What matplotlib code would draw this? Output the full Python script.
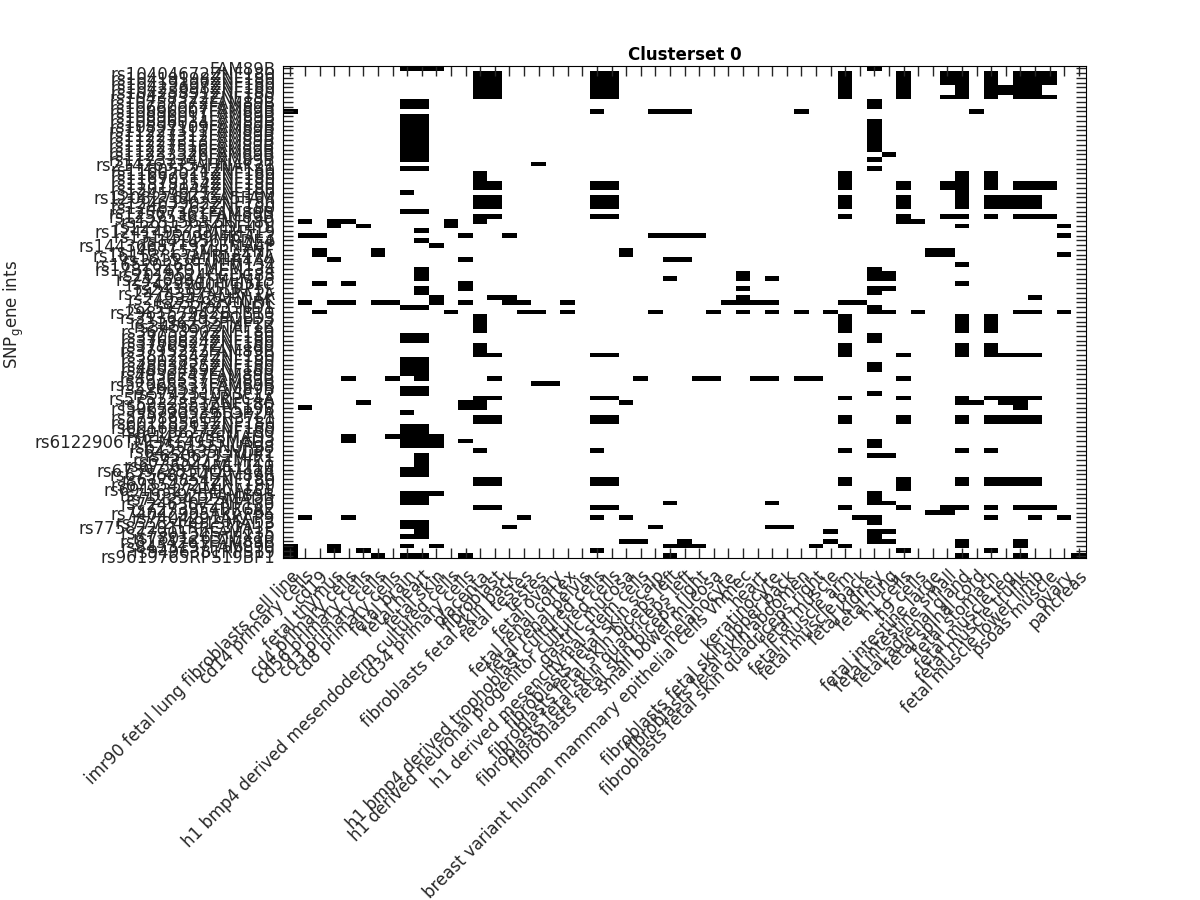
import matplotlib
matplotlib.use("Agg")
import matplotlib.pyplot as plt
import numpy as np

# tissue names along the x axis
tissues = [
    "imr90 fetal lung fibroblasts cell line", "cd14 primary cells", "cd19", "fetal thymus",
    "cd4 primary cells", "cd56 primary cells", "cd3 primary cells", "cd8 primary cells",
    "fetal brain", "fetal heart", "fetal skin", "h1 bmp4 derived mesendoderm cultured cells",
    "cd34 primary cells", "placenta", "fibroblast", "fibroblasts fetal skin back",
    "fetal testes", "testes", "fetal ovary", "fetal renal cortex", "fetal renal pelvis",
    "h1 bmp4 derived trophoblast cultured cells", "h1 derived neuronal progenitor cultured cells",
    "gastric mucosa", "h1 derived mesenchymal stem cells", "fibroblasts fetal skin scalp",
    "fibroblasts fetal skin biceps left", "fibroblasts fetal skin quadriceps left",
    "fibroblasts fetal skin biceps right", "small bowel mucosa", "melanocyte",
    "breast variant human mammary epithelial cells vhmec", "heart", "keratinocyte",
    "fibroblasts fetal skin upper back", "fibroblasts fetal skin abdomen",
    "fibroblasts fetal skin quadriceps right", "fetal muscle", "fetal muscle arm", "fetal muscle back",
    "fetal kidney", "fetal lung", "h1 cells", "h9 cells", "fetal intestine large",
    "fetal intestine small", "fetal adrenal gland", "fetal spinal cord", "fetal stomach",
    "fetal muscle leg", "fetal muscle trunk", "fetal muscle lower limb", "psoas muscle",
    "ovary", "pancreas",
]

# SNP_gene labels, top row first
snp_genes = [
    "FAM89B", "rs10404672ZNF180", "rs10419198ZNF180", "rs10419397ZNF180", "rs10423698ZNF180",
    "rs10425891ZNF180", "rs10438322ZNF180", "rs10757372FAM89B", "rs10660067FAM89B", "rs10896007FAM89B",
    "rs10896011FAM89B", "rs10896034FAM89B", "rs10897109FAM89B", "rs11227311FAM89B", "rs11227312FAM89B",
    "rs11227313FAM89B", "rs11227516FAM89B", "rs11227526FAM89B", "rs11233326FAM89B", "rs11233340FAM89B",
    "rs21426335AHNAK21", "rs11605524ZNF180", "rs11667011ZNF180", "rs11670315ZNF180", "rs11878154ZNF180",
    "rs12017044ZNF180", "rs12459621ZNF180", "rs12082764GGA5FAM", "rs12463902ZNF180", "rs12467262ZNF180",
    "rs12567361FAM89B", "rs12575361FAM89B", "rs1281563ZNF180", "rs12911235PDE4DI", "rs12414957TMEM519",
    "rs13145099MICAL3", "rs1414567PDE4", "rs14436687T97LEMA4P", "rs1467153MIR3ZNF", "rs16153367MIRLET7A",
    "rs1615367MIR4A4", "rs16520268TMEM134", "rs17812470TMEM134", "rs2019524CCDC88", "rs2426994TMEM13",
    "rs2429900JMJD1C", "rs2433945LRP5L", "rs2474397ADRA1A", "rs2493442AHNAK", "rs2559870LDL",
    "rs2597340CCND1", "rs29815794ZBTB10", "rs31362493POLD3", "rs3136292PMP22", "rs3456533TAF1B",
    "rs3675390ZNF180", "rs3700824ZNF180", "rs3760824ZNF180", "rs3778927ZNF180", "rs3795272FAM89B",
    "rs3812342ZNF180", "rs3902837ZNF180", "rs4803425ZNF180", "rs4803459ZNF180", "rs4936247FAM89B",
    "rs4936537FAM89B", "rs52065337FAM89B", "rs5266533FAM89B", "rs5742510ASCL2", "rs57512335ARPC4A",
    "rs5932851ZNF180", "rs59653352RPS19B", "rs5790539TOP2A", "rs5798693GPR37L1", "rs60118561ZNF180",
    "rs60169212ZNF180", "rs6018827ZNF180", "rs6142975SMAD3", "rs6122906TMEM14955MAD3", "rs6250155NUP98",
    "rs6422635CNDP2", "rs6506712MIR1", "rs6735223ZMIZ1", "rs6736044MLLT10", "rs67397281DQ97424",
    "rs67568724FAM89B", "rs6779854ZNF180", "rs67854721ZNF180", "rs69183274MICALCL", "rs7103925FAM89B",
    "rs7235412SMAD3", "rs7246307ZNF180", "rs7273954BRCA2", "rs74042905AKAP95", "rs7404291AKAP9",
    "rs77724491SMAD3", "rs77582291LRRC37A1P", "rs7790134FAM135", "rs7801263TEX10", "rs8134261FAM89B",
    "rs8453197FAM890", "rs9496381RPS19", "rs9619765RPS19BP1",
]

# active columns for every row, top row first
row_cols = [
    [8, 9, 10, 40],
    [13, 14, 21, 22, 38, 42, 45, 46, 48, 50, 51, 52],
    [13, 14, 21, 22, 38, 42, 45, 46, 48, 50, 51, 52],
    [13, 14, 21, 22, 38, 42, 45, 46, 48, 50, 51, 52],
    [13, 14, 21, 22, 38, 42, 46, 48, 49, 50, 51],
    [13, 14, 21, 22, 38, 42, 46, 48, 49, 50, 51],
    [13, 14, 21, 22, 38, 42, 45, 46, 48, 50, 51, 52],
    [8, 9, 40],
    [8, 9, 40],
    [0, 21, 25, 26, 27, 35, 47],
    [8, 9],
    [8, 9, 40],
    [8, 9, 40],
    [8, 9, 40],
    [8, 9, 40],
    [8, 9, 40],
    [8, 9, 40],
    [8, 9, 40],
    [8, 9, 41],
    [8, 9, 40],
    [17],
    [8, 9, 40],
    [13, 38, 46, 48],
    [13, 38, 46, 48],
    [13, 14, 21, 22, 38, 42, 45, 46, 48, 50, 51, 52],
    [13, 14, 21, 22, 38, 42, 45, 46, 48, 50, 51, 52],
    [8, 46],
    [13, 14, 21, 22, 38, 42, 46, 48, 49, 50, 51],
    [13, 14, 21, 22, 38, 42, 46, 48, 49, 50, 51],
    [13, 14, 21, 22, 38, 42, 46, 48, 49, 50, 51],
    [8, 9],
    [13, 14, 21, 22, 38, 42, 45, 46, 48, 50, 51, 52],
    [1, 3, 4, 11, 13, 42, 43],
    [3, 5, 11, 46, 53],
    [9],
    [1, 2, 12, 15, 25, 26, 27, 28, 53],
    [9],
    [10],
    [2, 6, 23, 44, 45],
    [2, 6, 23, 44, 45, 53],
    [3, 12, 26, 27],
    [46],
    [9, 40],
    [9, 31, 40, 41],
    [9, 26, 31, 33, 40, 41],
    [2, 4, 12, 46],
    [9, 12, 31, 40, 41],
    [9, 40],
    [10, 14, 15, 31, 51],
    [1, 3, 4, 6, 7, 10, 12, 15, 16, 19, 30, 31, 32, 33, 38, 39],
    [8, 9, 40],
    [2, 11, 16, 17, 19, 25, 29, 31, 33, 35, 37, 40, 41, 43, 50, 51, 53],
    [13, 38, 46, 48],
    [13, 38, 46, 48],
    [13, 38, 46, 48],
    [13, 38, 46, 48],
    [8, 9, 40],
    [8, 9, 40],
    [13, 38, 46, 48],
    [13, 38, 46, 48],
    [13, 14, 21, 22, 38, 42, 46, 48, 49, 50, 51],
    [8, 9],
    [8, 9, 40],
    [8, 9, 40],
    [8, 9],
    [4, 7, 9, 14, 24, 28, 29, 32, 33, 35, 36, 42],
    [17, 18],
    [8, 9],
    [8, 9, 40],
    [13, 14, 21, 22, 38, 42, 46, 48, 49, 50, 51],
    [5, 12, 13, 23, 46, 47, 49, 50],
    [1, 12, 13, 50],
    [8],
    [13, 14, 21, 22, 38, 42, 46, 48, 49, 50, 51],
    [13, 14, 21, 22, 38, 42, 46, 48, 49, 50, 51],
    [8, 9],
    [8, 9],
    [4, 7, 8, 9, 10],
    [4, 8, 9, 10, 12, 40],
    [8, 9, 10, 40],
    [13, 21, 38, 46, 48],
    [9, 40, 41],
    [9],
    [9],
    [8, 9],
    [8, 9],
    [13, 14, 21, 22, 38, 42, 46, 48, 49, 50, 51],
    [13, 14, 21, 22, 38, 42, 46, 48, 49, 50, 51],
    [42],
    [8, 9, 10, 40],
    [8, 9, 40],
    [8, 9, 26, 33, 40, 41],
    [13, 14, 21, 22, 38, 42, 45, 46, 48, 50, 51, 52],
    [44, 45],
    [1, 4, 16, 21, 23, 39, 40, 48, 51, 53],
    [8, 9, 40],
    [8, 9, 15, 25, 33, 34],
    [9, 37, 40, 41],
    [8, 9, 40],
    [23, 24, 27, 37, 40, 41, 46, 50],
    [0, 3, 8, 10, 26, 27, 28, 36, 38, 46, 50],
    [0, 3, 5, 21, 42, 48],
    [0, 6, 8, 9, 12, 26, 46, 50, 54],
]

matrix = np.zeros((len(snp_genes), len(tissues)))
for i, cols in enumerate(row_cols):
    matrix[i, cols] = 1

fig = plt.figure(figsize=(12, 9), dpi=100)
ax = fig.add_axes([283 / 1200, 1 - 558 / 900, (1086 - 283) / 1200, (558 - 66) / 900])

ax.pcolormesh(matrix, cmap="binary", vmin=0, vmax=1)
ax.set_xlim(0, len(tissues))
ax.set_ylim(len(snp_genes), 0)

ax.set_xticks(np.arange(len(tissues)) + 0.5)
ax.set_xticklabels(tissues, rotation=45, ha="right", rotation_mode="anchor", fontsize=12, color="#262626")
ax.set_yticks(np.arange(len(snp_genes)) + 0.5)
ax.set_yticklabels(snp_genes, fontsize=12, color="#262626")
ax.tick_params(direction="in", length=7, width=1, top=True, right=True, color="#262626")
ax.tick_params(axis="x", pad=6.5)
ax.tick_params(axis="y", pad=5.6)

ax.set_ylabel(r"SNP$_{\mathregular{g}}$ene ints", fontsize=12, color="#262626")
ax.yaxis.set_label_coords(-0.320, 0.495)
ax.set_title("Clusterset 0", fontsize=12, fontweight="bold", pad=4)

fig.savefig("out.png", dpi=100)
